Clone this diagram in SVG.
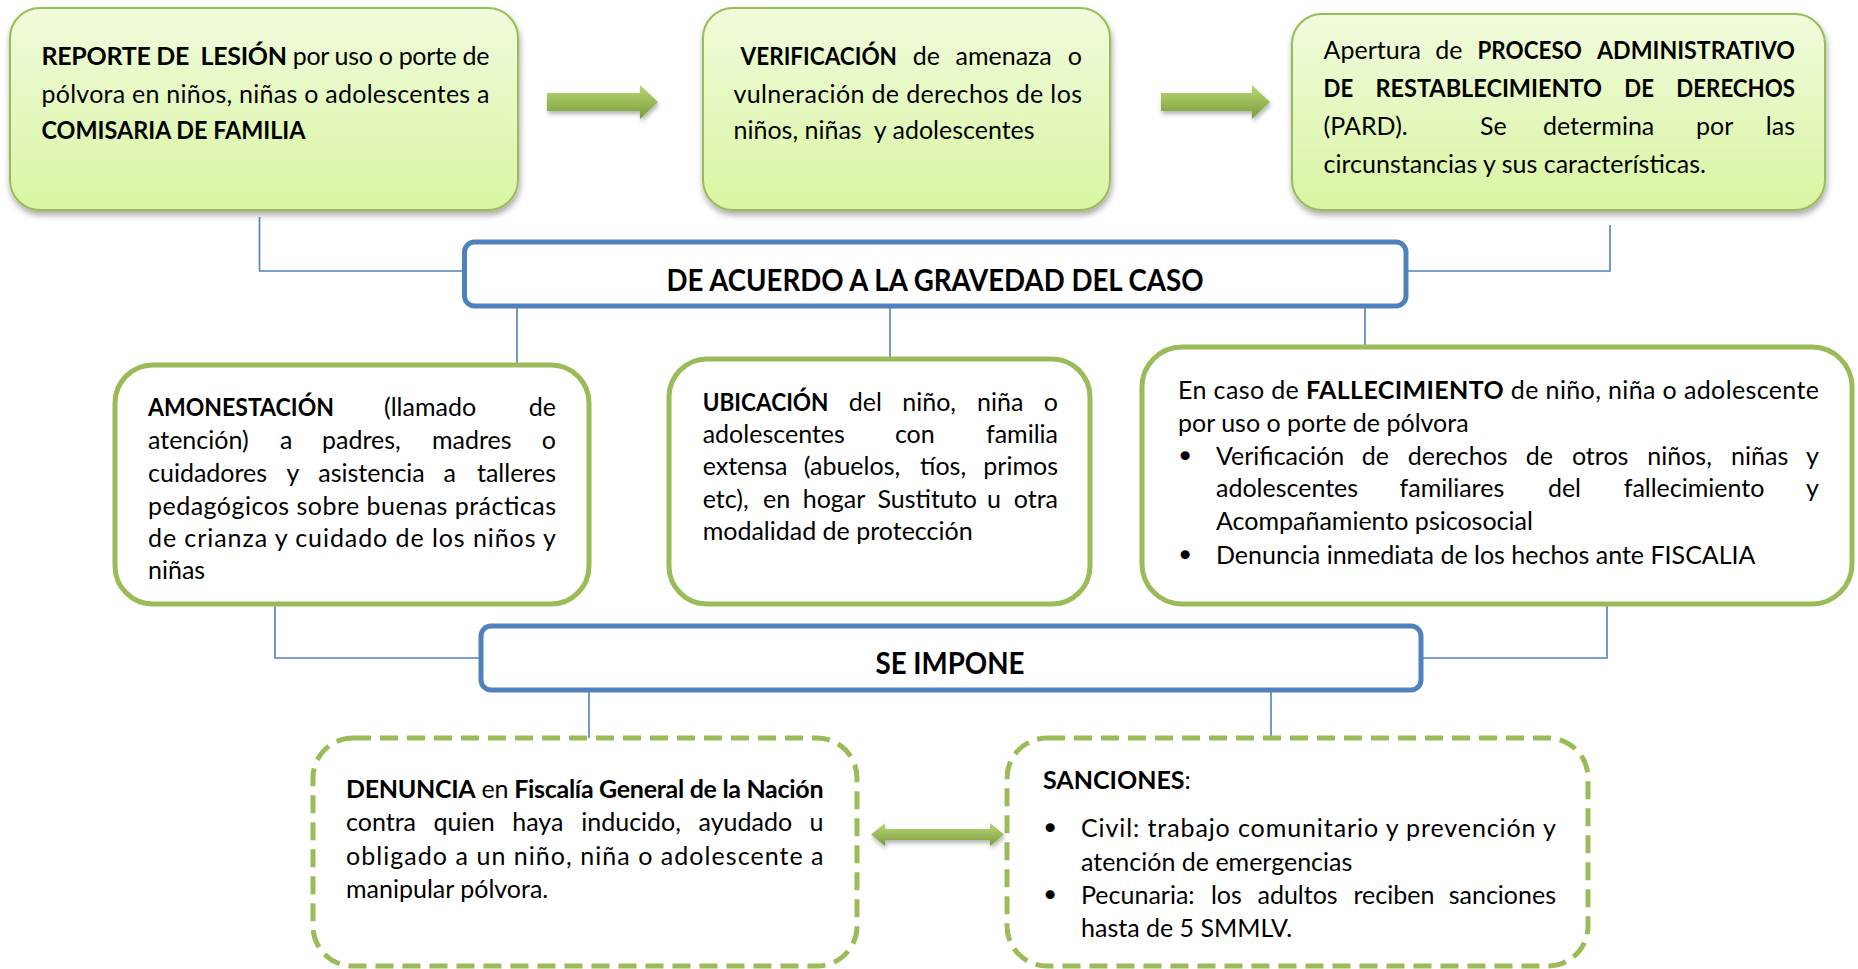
<svg xmlns="http://www.w3.org/2000/svg" width="1858" height="969" viewBox="0 0 1858 969">
<style>
.t{font-family:Lato,"Open Sans","Liberation Sans",sans-serif;font-size:25px;fill:#000}
.b{font-weight:bold}
.bu{font-family:"DejaVu Sans",sans-serif;font-size:31px;fill:#000}
.h{font-family:Lato,"Open Sans","Liberation Sans",sans-serif;font-size:31px;font-weight:bold;fill:#000}
.top{fill:url(#gbox);stroke:#9bbb59;stroke-width:2;filter:url(#sh)}
.blue{fill:#fff;stroke:#4f81bd;stroke-width:5}
.grn{fill:#fff;stroke:#9bbb59;stroke-width:5}
.dash{fill:#fff;stroke:#9bbb59;stroke-width:5;stroke-dasharray:18 9}
.ln{fill:none;stroke:#4f81bd;stroke-width:1.6}
.arr{fill:url(#garr);filter:url(#sh2)}
</style>
<defs>
<linearGradient id="gbox" x1="0" y1="0" x2="0" y2="1">
<stop offset="0" stop-color="#f1fbdc"/>
<stop offset="1" stop-color="#d8f5a2"/>
</linearGradient>
<linearGradient id="garr" x1="0" y1="0" x2="0" y2="1">
<stop offset="0" stop-color="#b8d775"/>
<stop offset="0.5" stop-color="#9bbb59"/>
<stop offset="1" stop-color="#779a38"/>
</linearGradient>
<filter id="sh" x="-10%" y="-10%" width="120%" height="130%">
<feDropShadow dx="1" dy="4" stdDeviation="3" flood-color="#000" flood-opacity="0.35"/>
</filter>
<filter id="sh2" x="-10%" y="-30%" width="120%" height="180%">
<feDropShadow dx="1" dy="3" stdDeviation="2" flood-color="#000" flood-opacity="0.3"/>
</filter>
</defs>

<g id="connectors">
<path class="ln" d="M259.5 217V271H464.5"/>
<path class="ln" d="M1610 225V271H1406"/>
<path class="ln" d="M517 308V365"/>
<path class="ln" d="M890 306V359"/>
<path class="ln" d="M1365 308V347"/>
<path class="ln" d="M275 604V658H481"/>
<path class="ln" d="M1607 604V658H1421"/>
<path class="ln" d="M589 690V738"/>
<path class="ln" d="M1271 690V738"/>
<path class="arr" d="M547 93H640V85L658 102L640 119V111H547Z"/>
<path class="arr" d="M1161 93H1252V85L1270 102L1252 119V111H1161Z"/>
<path class="arr" d="M871 834.5L885 823V829H990V823L1004 834.5L990 846V840H885V846Z"/>
</g>

<g id="n-reporte">
<rect class="top" x="10" y="8" width="508" height="202" rx="30"/>
<text class="t" x="41.5" y="65" textLength="448" lengthAdjust="spacing" xml:space="preserve"><tspan class="b">REPORTE DE  LESIÓN</tspan> por uso o porte de</text>
<text class="t" x="41.5" y="103" textLength="448" lengthAdjust="spacing">pólvora en niños, niñas o adolescentes a</text>
<text class="t b" x="41.5" y="139" textLength="264" lengthAdjust="spacingAndGlyphs">COMISARIA DE FAMILIA</text>
</g>

<g id="n-verificacion">
<rect class="top" x="703" y="8" width="407" height="202" rx="30"/>
<text class="t b" x="740.6" y="65" textLength="156.4" lengthAdjust="spacingAndGlyphs">VERIFICACIÓN</text>
<text class="t" y="65"><tspan x="912.7">de</tspan><tspan x="955.5">amenaza</tspan></text>
<text class="t" x="1082" y="65" text-anchor="end">o</text>
<text class="t" x="733.5" y="103" textLength="348.5" lengthAdjust="spacing">vulneración de derechos de los</text>
<text class="t" x="733.5" y="139" xml:space="preserve">niños, niñas  y adolescentes</text>
</g>

<g id="n-pard">
<rect class="top" x="1292" y="14" width="533" height="196" rx="30"/>
<text class="t" y="59"><tspan x="1323.6">Apertura</tspan><tspan x="1435.2">de</tspan></text>
<text class="t b" x="1477.5" y="59" textLength="104.3" lengthAdjust="spacingAndGlyphs">PROCESO</text>
<text class="t b" x="1597" y="59" textLength="198" lengthAdjust="spacingAndGlyphs">ADMINISTRATIVO</text>
<text class="t b" x="1323.6" y="97" textLength="29.6" lengthAdjust="spacingAndGlyphs">DE</text>
<text class="t b" x="1375.5" y="97" textLength="226.5" lengthAdjust="spacingAndGlyphs">RESTABLECIMIENTO</text>
<text class="t b" x="1624.3" y="97" textLength="29.6" lengthAdjust="spacingAndGlyphs">DE</text>
<text class="t b" x="1676.3" y="97" textLength="118.7" lengthAdjust="spacingAndGlyphs">DERECHOS</text>
<text class="t" y="135"><tspan x="1323.6">(PARD).</tspan><tspan x="1480">Se</tspan><tspan x="1543">determina</tspan><tspan x="1696">por</tspan></text>
<text class="t" x="1795" y="135" text-anchor="end">las</text>
<text class="t" x="1323.6" y="172.5">circunstancias y sus características.</text>
</g>

<g id="n-gravedad">
<rect class="blue" x="464.5" y="242" width="941.5" height="64" rx="10"/>
<text class="h" x="935" y="290.5" text-anchor="middle" textLength="537" lengthAdjust="spacingAndGlyphs">DE ACUERDO A LA GRAVEDAD DEL CASO</text>
</g>

<g id="n-amonestacion">
<rect class="grn" x="115" y="365" width="474" height="239" rx="38"/>
<text class="t b" x="148" y="415.5" textLength="186" lengthAdjust="spacingAndGlyphs">AMONESTACIÓN</text>
<text class="t" x="384" y="415.5">(llamado</text>
<text class="t" x="556" y="415.5" text-anchor="end">de</text>
<text class="t" y="448.6"><tspan x="148">atención)</tspan><tspan x="280">a</tspan><tspan x="322">padres,</tspan><tspan x="432">madres</tspan></text>
<text class="t" x="556" y="448.6" text-anchor="end">o</text>
<text class="t" y="481.8"><tspan x="148">cuidadores</tspan><tspan x="286.4">y</tspan><tspan x="318.3">asistencia</tspan><tspan x="443.6">a</tspan></text>
<text class="t" x="556" y="481.8" text-anchor="end">talleres</text>
<text class="t" x="148" y="515" textLength="408" lengthAdjust="spacing">pedagógicos sobre buenas prácticas</text>
<text class="t" x="148" y="547" textLength="408" lengthAdjust="spacing">de crianza y cuidado de los niños y</text>
<text class="t" x="148" y="579">niñas</text>
</g>

<g id="n-ubicacion">
<rect class="grn" x="669" y="359" width="421" height="245" rx="38"/>
<text class="t b" x="702.7" y="410.7" textLength="125.8" lengthAdjust="spacingAndGlyphs">UBICACIÓN</text>
<text class="t" y="410.7"><tspan x="848.8">del</tspan><tspan x="902.3">niño,</tspan><tspan x="977.1">niña</tspan></text>
<text class="t" x="1058" y="410.7" text-anchor="end">o</text>
<text class="t" y="442.7"><tspan x="702.7">adolescentes</tspan><tspan x="894.9">con</tspan></text>
<text class="t" x="1058" y="442.7" text-anchor="end">familia</text>
<text class="t" y="474.7"><tspan x="702.7">extensa</tspan><tspan x="803.8">(abuelos,</tspan><tspan x="920">tíos,</tspan></text>
<text class="t" x="1058" y="474.7" text-anchor="end">primos</text>
<text class="t" y="507.9"><tspan x="702.7">etc),</tspan><tspan x="763.1">en</tspan><tspan x="802.7">hogar</tspan><tspan x="877.5">Sustituto</tspan><tspan x="987">u</tspan></text>
<text class="t" x="1058" y="507.9" text-anchor="end">otra</text>
<text class="t" x="702.7" y="539.9">modalidad de protección</text>
</g>

<g id="n-fallecimiento">
<rect class="grn" x="1142" y="347" width="710" height="257" rx="40"/>
<text class="t" x="1178" y="399" textLength="641" lengthAdjust="spacing">En caso de <tspan class="b">FALLECIMIENTO</tspan> de niño, niña o adolescente</text>
<text class="t" x="1178" y="432">por uso o porte de pólvora</text>
<text class="bu" x="1176" y="467">•</text>
<text class="t" y="465"><tspan x="1216">Verificación</tspan><tspan x="1361.7">de</tspan><tspan x="1407.8">derechos</tspan><tspan x="1525.8">de</tspan><tspan x="1571.9">otros</tspan><tspan x="1647.3">niños,</tspan><tspan x="1731.1">niñas</tspan></text>
<text class="t" x="1819" y="465" text-anchor="end">y</text>
<text class="t" y="497"><tspan x="1216">adolescentes</tspan><tspan x="1399.6">familiares</tspan><tspan x="1547.9">del</tspan><tspan x="1623.7">fallecimiento</tspan></text>
<text class="t" x="1819" y="497" text-anchor="end">y</text>
<text class="t" x="1216" y="530">Acompañamiento psicosocial</text>
<text class="bu" x="1176" y="565.6">•</text>
<text class="t" x="1216" y="563.6">Denuncia inmediata de los hechos ante FISCALIA</text>
</g>

<g id="n-impone">
<rect class="blue" x="481" y="626" width="940" height="64" rx="10"/>
<text class="h" x="950" y="673.5" text-anchor="middle" textLength="149" lengthAdjust="spacingAndGlyphs">SE IMPONE</text>
</g>

<g id="n-denuncia">
<rect class="dash" x="313" y="738" width="544" height="228" rx="40"/>
<text class="t" x="346" y="798" textLength="477.5" lengthAdjust="spacing"><tspan class="b">DENUNCIA</tspan> en <tspan class="b">Fiscalía General de la Nación</tspan></text>
<text class="t" y="831"><tspan x="346">contra</tspan><tspan x="433.6">quien</tspan><tspan x="512.3">haya</tspan><tspan x="581.3">inducido,</tspan><tspan x="698.6">ayudado</tspan></text>
<text class="t" x="823.5" y="831" text-anchor="end">u</text>
<text class="t" x="346" y="864.5" textLength="477.5" lengthAdjust="spacing">obligado a un niño, niña o adolescente a</text>
<text class="t" x="346" y="898">manipular pólvora.</text>
</g>

<g id="n-sanciones">
<rect class="dash" x="1007" y="738" width="581" height="228" rx="40"/>
<text class="t" x="1043" y="789"><tspan class="b">SANCIONES</tspan>:</text>
<text class="bu" x="1041" y="839">•</text>
<text class="t" x="1081" y="837" textLength="475" lengthAdjust="spacing">Civil: trabajo comunitario y prevención y</text>
<text class="t" x="1081" y="870.5">atención de emergencias</text>
<text class="bu" x="1041" y="905.6">•</text>
<text class="t" y="903.6"><tspan x="1081">Pecunaria:</tspan><tspan x="1210.9">los</tspan><tspan x="1257.5">adultos</tspan><tspan x="1353.5">reciben</tspan></text>
<text class="t" x="1556" y="903.6" text-anchor="end">sanciones</text>
<text class="t" x="1081" y="937">hasta de 5 SMMLV.</text>
</g>
</svg>
